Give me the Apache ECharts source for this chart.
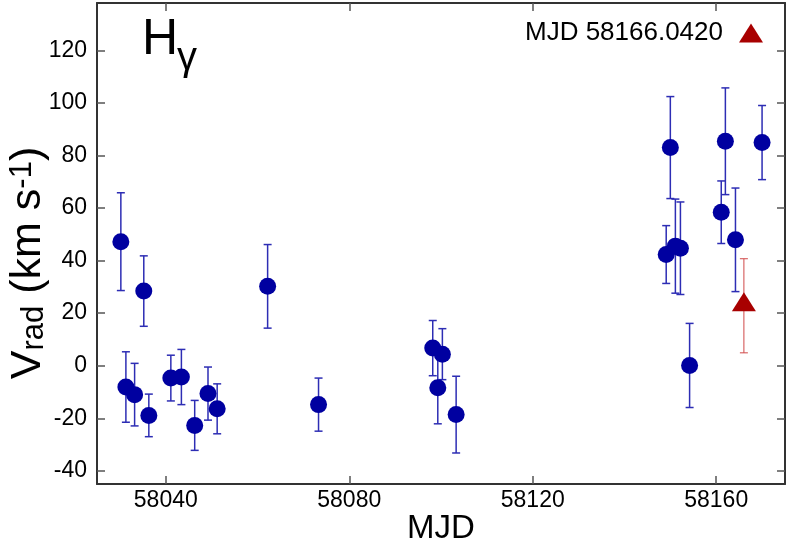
<!DOCTYPE html>
<html>
<head>
<meta charset="utf-8">
<script src="https://cdn.jsdelivr.net/npm/echarts@6/dist/echarts.min.js"></script>
<style>html,body{margin:0;padding:0;background:#fff}#c{width:789px;height:547px}</style>
</head>
<body>
<div id="c"></div>
<script>
// Blue points: MJD, radial velocity (km/s), error (km/s)
const mjd = [58030.2, 58031.3, 58033.2, 58035.2, 58036.3, 58041.1, 58043.4, 58046.3, 58049.2, 58051.2,
             58062.2, 58073.3, 58098.2, 58099.3, 58100.3, 58103.3, 58149.1, 58150.0, 58151.1, 58152.2,
             58154.2, 58161.1, 58162.0, 58164.2, 58170.0];
const vrad = [47.2, -8.1, -11.0, 28.4, -18.9, -4.7, -4.3, -22.7, -10.6, -16.4,
              30.2, -14.8, 6.7, -8.4, 4.4, -18.6, 42.3, 83.0, 45.5, 44.7,
              0.1, 58.4, 85.4, 47.9, 84.9];
const verr = [18.6, 13.4, 11.9, 13.4, 8.1, 8.7, 10.5, 9.5, 10.1, 9.5,
              15.9, 10.1, 10.5, 13.7, 9.7, 14.6, 11.0, 19.4, 17.9, 17.6,
              16.0, 11.9, 20.3, 19.7, 14.1];
// Red special point
const redMjd = [58166.04];
const redV = [22.8];
const redErr = [17.9];
const redName = 'MJD 58166.0420';
// Tick labels
const xTicks = [58040, 58080, 58120, 58160];
const yTicks = [-40, -20, 0, 20, 40, 60, 80, 100, 120];

const FONT = '"Liberation Sans", Arial, sans-serif';
const blue = '#0000a0', blueBar = '#2d2db4';
const red = '#a80000', redBar = '#d04848';

const bluePts = mjd.map((m, i) => [m, vrad[i]]);
const blueBars = mjd.map((m, i) => [m, vrad[i] - verr[i], vrad[i] + verr[i]]);
const redPts = redMjd.map((m, i) => [m, redV[i]]);
const redBars = redMjd.map((m, i) => [m, redV[i] - redErr[i], redV[i] + redErr[i]]);

function barRenderer(color, width, cap) {
  return function (params, api) {
    const x = api.value(0), lo = api.value(1), hi = api.value(2);
    const a = api.coord([x, hi]), b = api.coord([x, lo]);
    const st = { stroke: color, lineWidth: width };
    return { type: 'group', children: [
      { type: 'line', shape: { x1: a[0], y1: a[1], x2: b[0], y2: b[1] }, style: st },
      { type: 'line', shape: { x1: a[0] - cap, y1: a[1], x2: a[0] + cap, y2: a[1] }, style: st },
      { type: 'line', shape: { x1: b[0] - cap, y1: b[1], x2: b[0] + cap, y2: b[1] }, style: st }
    ]};
  };
}

const frame = { show: true, onZero: false, lineStyle: { color: '#333', width: 2 } };
const tick = (vals) => ({ show: true, inside: true, length: 8, customValues: vals, lineStyle: { color: '#555', width: 1.5 } });
const plain = (v) => String(v);

const chart = echarts.init(document.getElementById('c'), null, { renderer: 'canvas' });
chart.setOption({
  animation: false,
  backgroundColor: '#fff',
  grid: { left: 97, right: 4, top: 3, bottom: 63 },
  xAxis: [
    { type: 'value', min: 58025, max: 58175, position: 'bottom',
      axisLine: frame, axisTick: tick(xTicks), splitLine: { show: false },
      axisLabel: { customValues: xTicks, formatter: plain, fontSize: 23, color: '#000', fontFamily: FONT, margin: 5 } },
    { type: 'value', min: 58025, max: 58175, position: 'top',
      axisLine: frame, axisTick: tick(xTicks), splitLine: { show: false }, axisLabel: { show: false } }
  ],
  yAxis: [
    { type: 'value', min: -45, max: 138, position: 'left',
      axisLine: frame, axisTick: tick(yTicks), splitLine: { show: false },
      axisLabel: { customValues: yTicks, formatter: plain, fontSize: 23, color: '#000', fontFamily: FONT, margin: 10 } },
    { type: 'value', min: -45, max: 138, position: 'right',
      axisLine: frame, axisTick: tick(yTicks), splitLine: { show: false }, axisLabel: { show: false } }
  ],
  legend: {
    data: [{ name: redName, icon: 'triangle' }],
    right: 21, top: 15, align: 'right', itemWidth: 24, itemHeight: 19,
    textStyle: { fontSize: 26, color: '#000', fontFamily: FONT, padding: [0, 11, 0, 0] }
  },
  series: [
    { type: 'custom', name: 'bars', renderItem: barRenderer(blueBar, 1.5, 4), data: blueBars,
      encode: { x: 0, y: [1, 2] }, z: 2, silent: true },
    { type: 'scatter', name: 'blue', data: bluePts, symbol: 'circle', symbolSize: 17,
      itemStyle: { color: blue, opacity: 1 }, z: 3 },
    { type: 'custom', name: 'redbars', renderItem: barRenderer(redBar, 1, 4), data: redBars,
      encode: { x: 0, y: [1, 2] }, z: 2, silent: true },
    { type: 'scatter', name: redName, data: redPts, symbol: 'triangle', symbolSize: [24, 19],
      symbolOffset: [0, -4], itemStyle: { color: red, opacity: 1 }, z: 4 }
  ],
  graphic: [
    { type: 'text', x: 142, y: 40, z: 10,
      style: { text: 'H', fontSize: 50, fontFamily: FONT, fill: '#000', align: 'left', verticalAlign: 'middle' } },
    { type: 'text', x: 177, y: 59, z: 10,
      style: { text: 'γ', fontSize: 40, fontFamily: FONT, fill: '#000', align: 'left', verticalAlign: 'middle' } },
    { type: 'text', x: 441, y: 529, z: 10,
      style: { text: 'MJD', fontSize: 33, fontFamily: FONT, fill: '#000', align: 'center', verticalAlign: 'middle' } },
    { type: 'text', x: 28, y: 263, rotation: Math.PI / 2, z: 10,
      style: { text: '{m|V}{s|rad}{m| (km s}{p|-1}{m|)}', align: 'center', verticalAlign: 'middle',
        rich: { m: { fontSize: 43, lineHeight: 43, fontFamily: FONT, fill: '#000' },
                s: { fontSize: 31, lineHeight: 19, verticalAlign: 'bottom', fontFamily: FONT, fill: '#000' },
                p: { fontSize: 31, lineHeight: 19, verticalAlign: 'top', fontFamily: FONT, fill: '#000' } } } }
  ]
});
</script>
</body>
</html>
